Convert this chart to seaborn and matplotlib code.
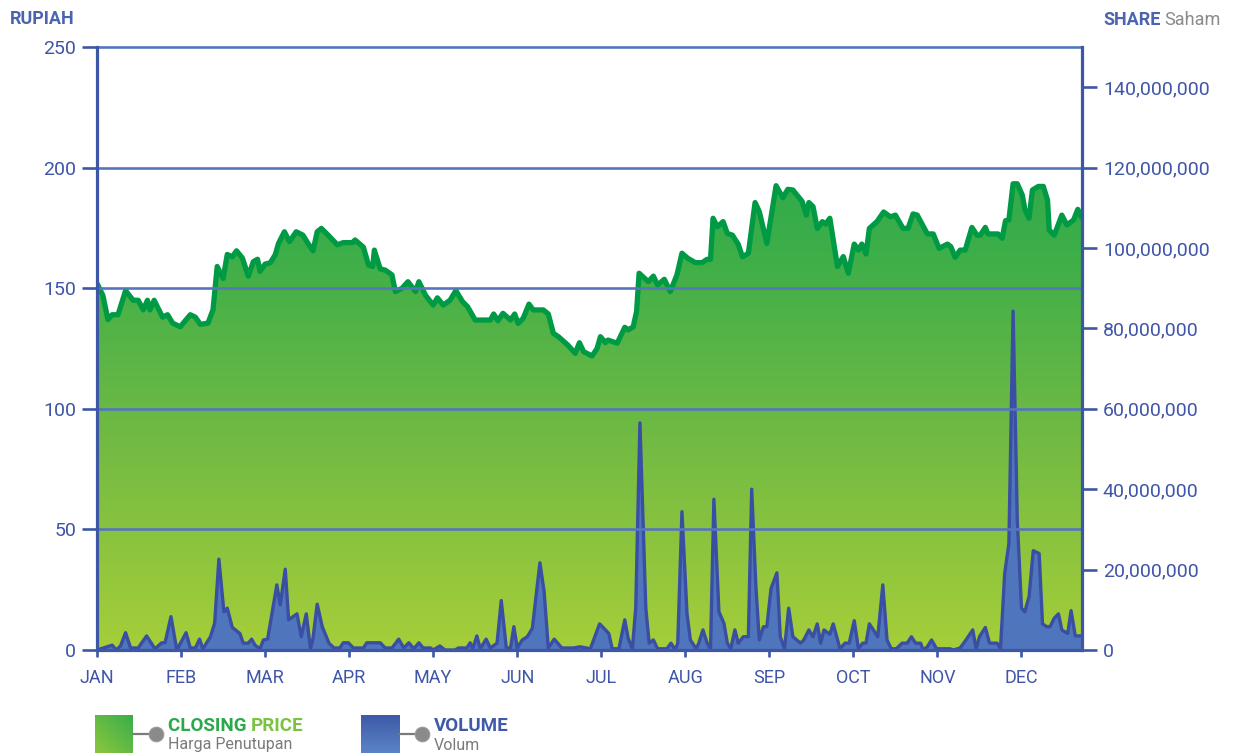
import numpy as np
import pandas as pd
import matplotlib
matplotlib.use("Agg")
import matplotlib.pyplot as plt
import seaborn as sns
from matplotlib.colors import LinearSegmentedColormap
from matplotlib.transforms import blended_transform_factory
from matplotlib.lines import Line2D
from matplotlib.ticker import FuncFormatter

# ---------------- data ----------------
months = ["JAN", "FEB", "MAR", "APR", "MAY", "JUN", "JUL", "AUG", "SEP", "OCT", "NOV", "DEC"]

# position in months (0 = start of January)
price_pos = [0.00, 0.07, 0.13, 0.18, 0.25, 0.34, 0.43, 0.49, 0.55, 0.60, 0.63, 0.68, 0.78, 0.84, 0.90, 0.99,
             1.11, 1.17, 1.23, 1.32, 1.38, 1.43, 1.50, 1.55, 1.61, 1.66, 1.73, 1.80, 1.86, 1.91, 1.94,
             2.00, 2.06, 2.12, 2.16, 2.23, 2.29, 2.37, 2.45, 2.51, 2.57, 2.62, 2.67, 2.75, 2.86, 2.93,
             3.04, 3.07, 3.17, 3.23, 3.28, 3.30, 3.37, 3.43, 3.51, 3.55, 3.63, 3.70, 3.79, 3.83, 3.91,
             4.00, 4.05, 4.12, 4.20, 4.27, 4.35, 4.41, 4.50, 4.68, 4.72, 4.77, 4.83, 4.92, 4.97,
             5.01, 5.07, 5.14, 5.19, 5.31, 5.37, 5.43, 5.49, 5.60, 5.69, 5.74, 5.79, 5.89, 5.95, 5.99,
             6.05, 6.08, 6.19, 6.28, 6.32, 6.38, 6.42, 6.45, 6.56, 6.62, 6.67, 6.75, 6.82, 6.90, 6.96,
             7.03, 7.12, 7.20, 7.26, 7.30, 7.33, 7.38, 7.45, 7.50, 7.56, 7.63, 7.68, 7.75, 7.83, 7.88, 7.97,
             8.08, 8.16, 8.22, 8.28, 8.39, 8.44, 8.47, 8.52, 8.57, 8.63, 8.67, 8.72, 8.81, 8.88, 8.94,
             9.01, 9.06, 9.10, 9.15, 9.19, 9.28, 9.36, 9.44, 9.50, 9.59, 9.65, 9.71, 9.76, 9.88, 9.95,
             10.02, 10.12, 10.16, 10.21, 10.27, 10.33, 10.41, 10.47, 10.51, 10.57, 10.60, 10.72, 10.77,
             10.81, 10.85, 10.90, 10.95, 11.01, 11.04, 11.09, 11.13, 11.20, 11.26, 11.31, 11.33, 11.39,
             11.48, 11.54, 11.62, 11.67, 11.72]
closing_price = [152, 147, 137, 139, 139, 149, 145, 145, 141, 145, 141, 145, 138, 139, 135.5, 134,
                 139, 138, 135, 135.5, 141, 159, 154, 164, 163, 165.5, 162.5, 155, 161, 162, 157,
                 160, 160.5, 163.8, 168.6, 173.4, 169.3, 173.4, 172, 168.6, 165.5, 173.4, 174.8, 172, 168, 168.9,
                 168.9, 170, 167, 159.6, 159, 165.8, 158, 157.5, 155.5, 148.6, 150, 152.7, 148.6, 152.7, 147,
                 143, 146, 143, 145, 149, 144.4, 142.3, 136.8, 136.8, 139.3, 136.5, 139.6, 136.8, 139.3,
                 135.4, 137.5, 143.4, 141, 141, 139.3, 131.3, 129.9, 126.5, 123, 127.4, 123.7, 121.9, 125, 129.9,
                 127.4, 128.5, 127.2, 133.8, 132.7, 134, 140.3, 156.2, 152.7, 155, 151.3, 153.7, 148.6, 155.5, 164.5,
                 162.4, 160.6, 160.6, 162, 162, 179, 175.5, 177.6, 172.7, 172, 168.2, 163, 164.5, 185.5, 181.8, 168.6,
                 192.5, 187.5, 191, 190.7, 186, 180.3, 185.5, 183.8, 174.8, 177.6, 176.6, 179, 159, 163.1, 156.2,
                 168.3, 165.8, 168.3, 164.2, 174.8, 177.6, 181.6, 179.6, 180.3, 174.8, 174.8, 180.8, 180.3, 172.5, 172.5,
                 166.5, 168.3, 167.2, 162.8, 165.8, 165.8, 175.2, 172, 172, 175.2, 172.5, 172.5, 170.7,
                 178, 178.3, 193.3, 193.3, 188.6, 182.7, 179, 190.7, 192.2, 192.2, 186.5, 174.1, 172,
                 180.3, 176.2, 178.3, 182.7, 179]

volume_pos = [0.00, 0.18, 0.23, 0.28, 0.34, 0.40, 0.49, 0.59, 0.69, 0.77, 0.81, 0.88, 0.95,
              1.06, 1.11, 1.17, 1.22, 1.26, 1.35, 1.40, 1.45, 1.51, 1.55, 1.61, 1.70, 1.74, 1.80, 1.84, 1.88, 1.94, 1.98,
              2.03, 2.14, 2.18, 2.24, 2.28, 2.38, 2.43, 2.49, 2.54, 2.57, 2.62, 2.68, 2.76, 2.82, 2.89, 2.93, 2.99,
              3.05, 3.17, 3.21, 3.37, 3.43, 3.51, 3.59, 3.65, 3.71, 3.77, 3.83, 3.88, 3.97,
              4.00, 4.08, 4.14, 4.26, 4.30, 4.40, 4.44, 4.47, 4.52, 4.56, 4.63, 4.68, 4.76, 4.81, 4.87, 4.92, 4.96,
              5.00, 5.06, 5.12, 5.18, 5.27, 5.32, 5.37, 5.44, 5.53, 5.67, 5.75, 5.87, 5.98,
              6.05, 6.09, 6.13, 6.21, 6.28, 6.32, 6.37, 6.41, 6.46, 6.53, 6.57, 6.62, 6.67, 6.78, 6.83, 6.88, 6.91, 6.96,
              7.02, 7.06, 7.13, 7.16, 7.21, 7.26, 7.30, 7.34, 7.40, 7.46, 7.50, 7.54, 7.59, 7.63, 7.69, 7.75, 7.79,
              7.84, 7.88, 7.93, 7.97, 8.02, 8.09, 8.13, 8.18, 8.23, 8.28, 8.37, 8.41, 8.47, 8.52, 8.57, 8.61, 8.65,
              8.72, 8.76, 8.84, 8.90, 8.95, 9.01, 9.06, 9.11, 9.15, 9.19, 9.29, 9.35, 9.40, 9.45, 9.51, 9.58, 9.64,
              9.69, 9.74, 9.80, 9.83, 9.88, 9.93, 9.99, 10.15, 10.19, 10.27, 10.34, 10.42, 10.46, 10.50, 10.57,
              10.62, 10.71, 10.75, 10.80, 10.85, 10.90, 10.95, 11.00, 11.04, 11.09, 11.14, 11.21, 11.25, 11.30,
              11.34, 11.39, 11.44, 11.48, 11.55, 11.59, 11.64, 11.72]
volume_millions = [0, 1.2, 0, 1.0, 4.3, 0.5, 0.5, 3.5, 0.3, 1.8, 1.8, 8.3, 0,
                   4.3, 0.5, 0.5, 2.7, 0.3, 3.3, 6.7, 22.6, 9.5, 10.4, 5.6, 4.1, 1.7, 1.7, 2.7, 1.2, 0.3, 2.5,
                   2.7, 16.2, 11.2, 20.1, 7.5, 9.0, 3.3, 9.0, 0.3, 2.9, 11.4, 5.8, 1.7, 0.5, 0.5, 1.8, 1.8,
                   0.5, 0.5, 1.8, 1.8, 0.5, 0.5, 2.7, 0.5, 1.8, 0.3, 1.8, 0.5, 0.5,
                   0, 1.0, 0, 0, 0.5, 0.5, 1.8, 0.3, 3.5, 0.3, 2.7, 0.5, 1.7, 12.3, 0.5, 0.5, 5.8,
                   0.5, 2.5, 3.3, 5.4, 21.7, 14.5, 0.5, 2.7, 0.5, 0.5, 0.8, 0.3, 6.5,
                   5.0, 4.1, 0.3, 0.3, 7.5, 2.9, 0.3, 10.4, 56.5, 10.4, 1.7, 2.5, 0.3, 0.3, 1.7, 0, 1.7, 34.4,
                   9.1, 2.5, 0.3, 1.7, 5.0, 1.7, 0.3, 37.5, 9.5, 6.6, 1.7, 0.3, 5.0, 1.7, 3.3, 3.3, 40.0,
                   15.7, 2.5, 5.8, 5.8, 15.3, 19.2, 3.3, 0.3, 10.4, 3.3, 1.7, 2.5, 5.0, 3.3, 6.5, 1.7, 5.0,
                   3.9, 6.5, 0.3, 1.7, 1.7, 7.3, 0.3, 1.7, 1.7, 6.5, 3.3, 16.2, 2.5, 0.3, 0.3, 1.7, 1.7,
                   3.3, 1.7, 1.7, 0, 0.8, 2.5, 0.3, 0.3, 0, 0.5, 2.5, 5.0, 0.3, 3.3, 5.6,
                   1.7, 1.7, 0.3, 19.0, 26.5, 84.3, 32.3, 10.4, 9.5, 13.3, 24.7, 24.0, 6.5, 5.8,
                   5.8, 7.9, 9.0, 5.0, 4.1, 9.8, 3.5, 3.5]

price_ticks = [0, 50, 100, 150, 200, 250]
volume_ticks = [0, 20e6, 40e6, 60e6, 80e6, 100e6, 120e6, 140e6]

price_df = pd.DataFrame({"pos": price_pos, "price": closing_price})
vol_df = pd.DataFrame({"pos": volume_pos, "volume": np.array(volume_millions) * 1e6})

# ---------------- style ----------------
sns.set_theme(style="white")
plt.rcParams["font.family"] = ["Roboto", "DejaVu Sans"]

BLUE = "#3f55a8"
SPINE = "#3d57a6"
GRID = "#5576be"
LINE_GREEN = "#009a44"
VOL_FILL = "#4f76bd"
VOL_LINE = "#3a4ea3"

fig = plt.figure(figsize=(12.36, 7.56), dpi=100)
W, H = 1236, 756
L, R, B, T = 97 / W, 1082 / W, 1 - 650 / H, 1 - 47 / H
ax = fig.add_axes([L, B, R - L, T - B])
ax2 = ax.twinx()

XMAX = 11.72
ax.set_xlim(0, XMAX)
ax.set_ylim(0, 250)
ax2.set_ylim(0, 150e6)

# price area with vertical gradient
poly = ax.fill_between(price_df["pos"], price_df["price"], 0, color="none", lw=0)
cmap = LinearSegmentedColormap.from_list("g", ["#a6ce39", "#74bb43", "#3cae49", "#1ea64b"])
grad = np.linspace(0, 1, 256).reshape(-1, 1)
im = ax.imshow(grad, extent=[0, XMAX, 0, 250], origin="lower", aspect="auto", cmap=cmap, zorder=1)
im.set_clip_path(poly.get_paths()[0], transform=ax.transData)
sns.lineplot(data=price_df, x="pos", y="price", ax=ax, color=LINE_GREEN, linewidth=3.8,
             solid_joinstyle="round", solid_capstyle="round", zorder=3)
ax.set_xlim(0, XMAX)
ax.set_ylim(0, 250)

# volume area
ax2.fill_between(vol_df["pos"], vol_df["volume"], 0, color=VOL_FILL, lw=0, zorder=1)
sns.lineplot(data=vol_df, x="pos", y="volume", ax=ax2, color=VOL_LINE, linewidth=2.4,
             solid_joinstyle="round", zorder=2)
ax2.set_ylim(0, 150e6)
ax2.set_xlim(0, XMAX)

# horizontal grid lines on top (price scale)
tr = blended_transform_factory(ax2.transAxes, ax.transData)
for g in price_ticks[1:]:
    ax2.plot([0, 1], [g, g], transform=tr, color=GRID, lw=1.9, zorder=5, clip_on=False)

# spines
for a in (ax, ax2):
    for s in a.spines.values():
        s.set_visible(False)
for s in ("left", "right", "bottom"):
    ax2.spines[s].set_visible(True)
    ax2.spines[s].set_color(SPINE)
    ax2.spines[s].set_linewidth(2.3)
    ax2.spines[s].set_zorder(6)

# ticks
ax.set_yticks(price_ticks)
ax.set_yticklabels([str(t) for t in price_ticks])
ax.tick_params(axis="y", which="both", left=True, length=11, width=1.9, color=SPINE,
               labelsize=14, labelcolor=BLUE, pad=4)
ax.set_xticks(range(12))
ax.set_xticklabels(months)
ax.tick_params(axis="x", bottom=True, length=5, width=1.9, color=SPINE, labelsize=13,
               labelcolor=BLUE, pad=9)
ax2.set_yticks(volume_ticks)
ax2.yaxis.set_major_formatter(FuncFormatter(lambda v, p: f"{int(round(v)):,}"))
ax2.tick_params(axis="y", right=True, length=11, width=1.9, color=SPINE, labelsize=14,
                labelcolor=BLUE, pad=4)
ax.set_xlabel("")
ax.set_ylabel("")
ax2.set_xlabel("")
ax2.set_ylabel("")
ax.grid(False)
ax2.grid(False)

# axis titles
fig.text(10 / W, 1 - 19 / H, "RUPIAH", color="#4a64b0", fontsize=13, fontweight="bold",
         ha="left", va="center")
t1 = fig.text(1103 / W, 1 - 20 / H, "SHARE", color="#4a64b0", fontsize=13, fontweight="bold",
              ha="left", va="center")
fig.canvas.draw()
bb = t1.get_window_extent()
fig.text(bb.x1 / W + 4 / W, 1 - 20 / H, "Saham", color="#8a8a8a", fontsize=13,
         ha="left", va="center")

# legend
def legend_item(x0, colors, diag, title, title_colors, sub):
    sq = fig.add_axes([x0 / W, 1 - 753 / H, 38 / W, 38 / H])
    n = 64
    if diag:
        gx, gy = np.meshgrid(np.linspace(0, 1, n), np.linspace(0, 1, n))
        gridv = (gx + (1 - gy)) / 2
    else:
        gridv = np.linspace(1, 0, n).reshape(-1, 1) * np.ones((1, n))
    sq.imshow(gridv, cmap=LinearSegmentedColormap.from_list("c", colors), aspect="auto",
              origin="upper", extent=[0, 1, 0, 1])
    sq.set_axis_off()
    cy = 1 - 734 / H
    fig.add_artist(Line2D([(x0 + 38) / W, (x0 + 57) / W], [cy, cy], color="#7a7a7a", lw=1.6))
    fig.add_artist(Line2D([(x0 + 61) / W], [cy], marker="o", markersize=10.5,
                          markerfacecolor="#8a8a8a", markeredgecolor="#9a9a9a",
                          markeredgewidth=0.8, linestyle="none"))
    tx = (x0 + 73) / W
    if len(title_colors) == 2:
        a = fig.text(tx, 1 - 726 / H, title[0], color=title_colors[0], fontsize=13.5,
                     fontweight="bold", ha="left", va="center")
        fig.canvas.draw()
        b = a.get_window_extent()
        fig.text(b.x1 / W, 1 - 726 / H, title[1], color=title_colors[1], fontsize=13.5,
                 fontweight="bold", ha="left", va="center")
    else:
        fig.text(tx, 1 - 726 / H, title[0], color=title_colors[0], fontsize=13.5,
                 fontweight="bold", ha="left", va="center")
    fig.text(tx, 1 - 745 / H, sub, color="#7a7a7a", fontsize=11.5, ha="left", va="center")

legend_item(95, ["#8cc63f", "#3aae4a"], True, ["CLOSING ", "PRICE"], ["#2aa84a", "#7cc242"],
            "Harga Penutupan")
legend_item(361, ["#5a84c6", "#3e5aa8"], False, ["VOLUME"], ["#3f5aa8"], "Volum")

fig.savefig("out.png", dpi=100)
